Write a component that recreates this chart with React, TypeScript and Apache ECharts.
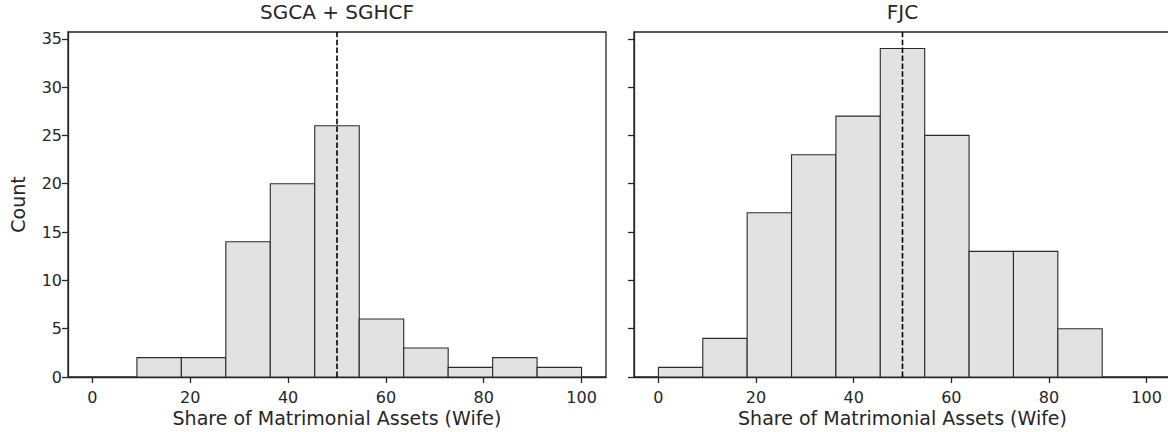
import React, { useEffect, useRef } from "react";
import * as echarts from "echarts";

// Panel titles and axis texts
const leftTitle = "SGCA + SGHCF";
const rightTitle = "FJC";
const xLabel = "Share of Matrimonial Assets (Wife)";
const yLabel = "Count";

// Histogram bin edges and counts for each panel
const leftBinEdges = [9.09, 18.18, 27.27, 36.36, 45.45, 54.55, 63.64, 72.73, 81.82, 90.91, 100];
const leftCounts = [2, 2, 14, 20, 26, 6, 3, 1, 2, 1];
const rightBinEdges = [0, 9.09, 18.18, 27.27, 36.36, 45.45, 54.55, 63.64, 72.73, 81.82, 90.91];
const rightCounts = [1, 4, 17, 23, 27, 34, 25, 13, 13, 5];

// Axis settings
const xTicks = [0, 20, 40, 60, 80, 100];
const yTicks = [0, 5, 10, 15, 20, 25, 30, 35];
const xMin = -5;
const xMax = 105;
const yMax = 35.7;
const equalShare = 50;

const FONT = "DejaVu Sans";
const INK = "#262626";
const BAR_FILL = "#e2e2e2";
const BAR_EDGE = "#2b2b2b";

function toBins(edges: number[], counts: number[]) {
  return counts.map((c, i) => [edges[i], edges[i + 1], c]);
}

function renderBar(params: any, api: any) {
  const x0 = api.value(0);
  const x1 = api.value(1);
  const c = api.value(2);
  const topLeft = api.coord([x0, c]);
  const bottomRight = api.coord([x1, 0]);
  return {
    type: "rect",
    shape: {
      x: topLeft[0],
      y: topLeft[1],
      width: bottomRight[0] - topLeft[0],
      height: bottomRight[1] - topLeft[1],
    },
    style: { fill: BAR_FILL, stroke: BAR_EDGE, lineWidth: 1.1 },
  };
}

function xAxisFor(gridIndex: number) {
  return {
    type: "value",
    gridIndex,
    min: xMin,
    max: xMax,
    splitLine: { show: false },
    axisLine: { show: true, onZero: false, lineStyle: { color: INK, width: 1.3 } },
    axisTick: {
      show: true,
      customValues: xTicks,
      length: 6,
      lineStyle: { color: INK, width: 1.3 },
    },
    axisLabel: {
      show: true,
      customValues: xTicks,
      color: INK,
      fontFamily: FONT,
      fontSize: 16,
      margin: 12,
    },
  };
}

function yAxisFor(gridIndex: number, showLabels: boolean) {
  return {
    type: "value",
    gridIndex,
    min: 0,
    max: yMax,
    splitLine: { show: false },
    axisLine: { show: true, onZero: false, lineStyle: { color: INK, width: 1.3 } },
    axisTick: {
      show: true,
      customValues: yTicks,
      length: 6,
      lineStyle: { color: INK, width: 1.3 },
    },
    axisLabel: {
      show: showLabels,
      customValues: yTicks,
      color: INK,
      fontFamily: FONT,
      fontSize: 16,
      margin: 6,
    },
  };
}

function equalShareLine(index: number) {
  return {
    type: "line",
    xAxisIndex: index,
    yAxisIndex: index,
    data: [
      [equalShare, 0],
      [equalShare, yMax],
    ],
    symbol: "none",
    z: 5,
    lineStyle: { color: "#000", width: 1.6, type: [5.5, 2.4] },
  };
}

const leftGrid = { left: 68, top: 32, width: 538, height: 345 };
const rightGrid = { left: 634, top: 32, width: 537, height: 345 };

function textAt(text: string, x: number, y: number, size: number, rotation = 0) {
  return {
    type: "text",
    x,
    y,
    rotation,
    style: {
      text,
      fill: INK,
      font: `${size}px "${FONT}"`,
      textAlign: "center",
      textVerticalAlign: "middle",
    },
  };
}

export default function App() {
  const ref = useRef<HTMLDivElement>(null);

  useEffect(() => {
    if (!ref.current) return;
    const chart = echarts.init(ref.current, null, { renderer: "svg" });
    const leftCenter = leftGrid.left + leftGrid.width / 2;
    const rightCenter = rightGrid.left + rightGrid.width / 2;
    const midY = leftGrid.top + leftGrid.height / 2;

    chart.setOption({
      animation: false,
      backgroundColor: "#ffffff",
      grid: [
        { ...leftGrid, show: true, borderColor: INK, borderWidth: 1.3, outerBoundsMode: "none" },
        { ...rightGrid, show: true, borderColor: INK, borderWidth: 1.3, outerBoundsMode: "none" },
      ],
      xAxis: [xAxisFor(0), xAxisFor(1)],
      yAxis: [yAxisFor(0, true), yAxisFor(1, false)],
      series: [
        {
          type: "custom",
          xAxisIndex: 0,
          yAxisIndex: 0,
          renderItem: renderBar,
          encode: { x: [0, 1], y: 2 },
          data: toBins(leftBinEdges, leftCounts),
        },
        {
          type: "custom",
          xAxisIndex: 1,
          yAxisIndex: 1,
          renderItem: renderBar,
          encode: { x: [0, 1], y: 2 },
          data: toBins(rightBinEdges, rightCounts),
        },
        equalShareLine(0),
        equalShareLine(1),
      ],
      graphic: [
        textAt(leftTitle, leftCenter, 12, 20),
        textAt(rightTitle, rightCenter, 12, 20),
        textAt(xLabel, leftCenter, 418, 19),
        textAt(xLabel, rightCenter, 418, 19),
        textAt(yLabel, 18, midY, 19, Math.PI / 2),
      ],
    });

    return () => chart.dispose();
  }, []);

  return (
    <div
      ref={ref}
      style={{ position: "fixed", left: 0, top: 0, width: 1180, height: 432 }}
    />
  );
}
